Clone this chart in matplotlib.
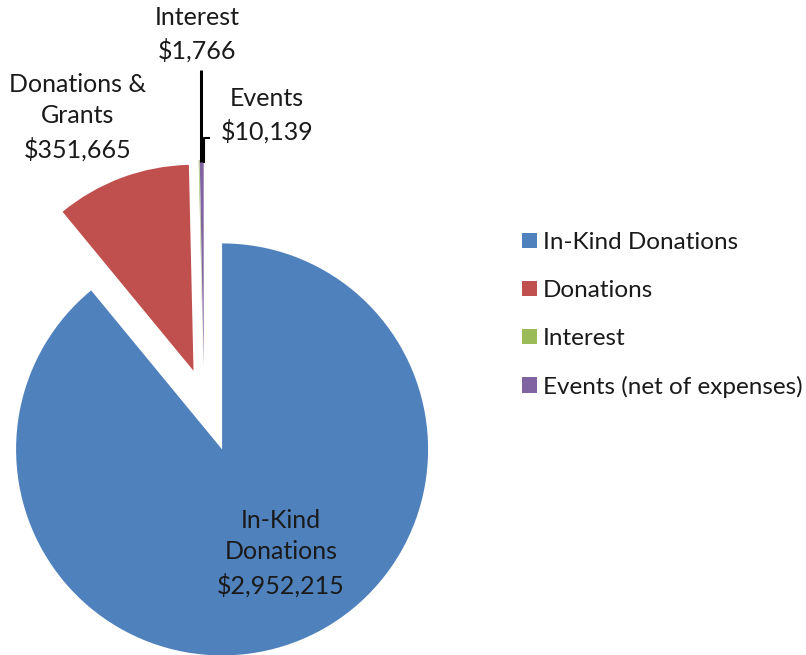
import matplotlib
matplotlib.use("Agg")
import matplotlib.pyplot as plt

# revenue sources
categories = ["In-Kind Donations", "Donations", "Interest", "Events (net of expenses)"]
values = [2952215, 351665, 1766, 10139]
slice_names = ["In-Kind\nDonations", "Donations &\nGrants", "Interest", "Events"]
colors = ["#4F81BD", "#C0504D", "#9BBB59", "#8064A2"]

plt.rcParams["font.family"] = ["Lato", "DejaVu Sans"]

W, H = 806, 655
CX, CY, R = 204, 399, 206  # pie centre and radius in pixels


def px(x, y):
    # pixel position -> data coordinates (pie radius = 1)
    return (x - CX) / R, (CY - y) / R


fig = plt.figure(figsize=(W / 100, H / 100), dpi=100)
ax = fig.add_axes([0, 0, 1, 1])

wedges, _ = ax.pie(values, colors=colors, startangle=90, counterclock=False,
                   explode=[0.26, 0.146, 0.16, 0.16], radius=1,
                   wedgeprops=dict(linewidth=0))

# pie() sets its own limits, so override afterwards
ax.set_xlim(-CX / R, (W - CX) / R)
ax.set_ylim((CY - H) / R, CY / R)
ax.set_aspect("equal")
ax.axis("off")

labels = [f"{n}\n${v:,}" for n, v in zip(slice_names, values)]
label_pos = [(281, 553), (78, 117), (197, 34), (267, 115)]
for txt, (x, y) in zip(labels, label_pos):
    ax.text(*px(x, y), txt, ha="center", va="center", fontsize=18,
            color="#1a1a1a", linespacing=1.45)

# leader lines for the two tiny slices
ax.plot(*zip(px(201, 70), px(201, 162)), color="black", lw=2.2, solid_capstyle="butt")
ax.plot(*zip(px(209, 138), px(204, 138), px(204, 162)), color="black", lw=1.5)

leg = ax.legend(wedges, categories, loc="center left",
                bbox_to_anchor=(522 / W, 1 - 315 / H), frameon=False,
                borderaxespad=0, borderpad=0,
                fontsize=17.5, handlelength=0.6, handleheight=0.6,
                handletextpad=0.25, labelspacing=1.1)
for t in leg.get_texts():
    t.set_color("#1a1a1a")

fig.savefig("out.png", dpi=100)
